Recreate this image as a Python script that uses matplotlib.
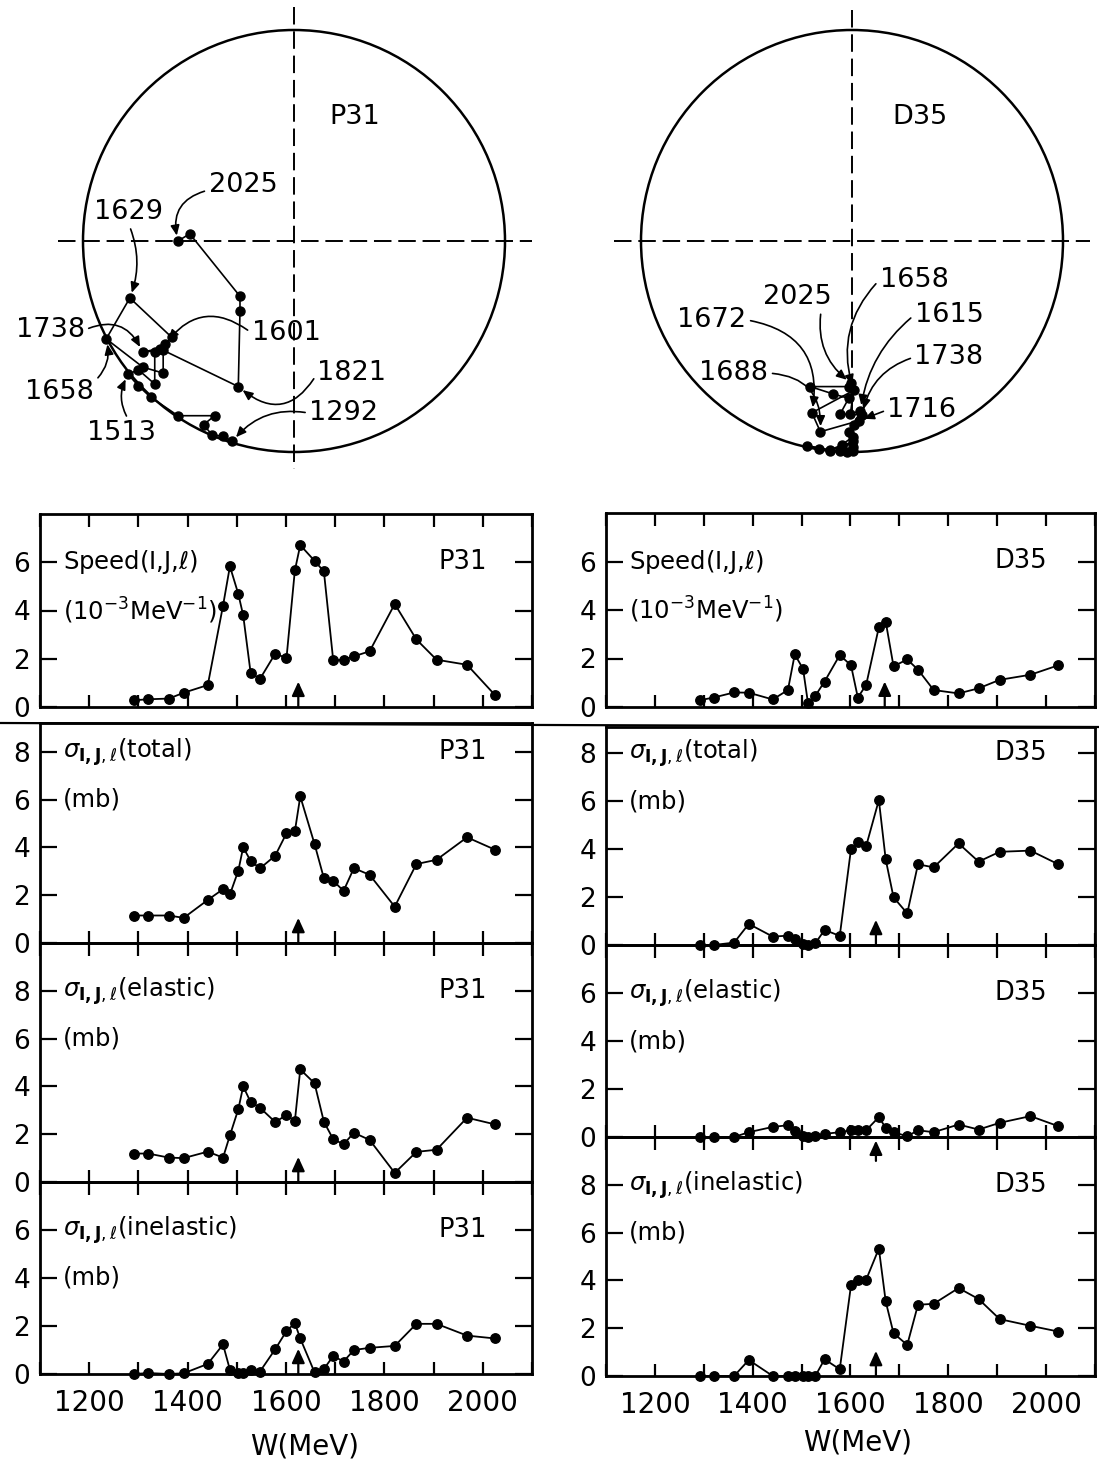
import matplotlib.pyplot as plt
import numpy as np
from matplotlib.lines import Line2D
from matplotlib.patches import Circle

FIG_W, FIG_H = 1099, 1466
DPI = 100

plt.rcParams["font.family"] = ["DejaVu Sans"]
plt.rcParams["mathtext.fontset"] = "dejavusans"

# ---------------------------------------------------------------- data
# energies (MeV) of the single-energy solutions
W_P31 = [1292, 1320, 1362, 1392, 1441, 1472, 1486, 1503, 1513, 1528, 1547, 1578, 1601,
         1618, 1629, 1658, 1677, 1696, 1717, 1738, 1770, 1821, 1865, 1906, 1968, 2025]
W_D35 = [1292, 1320, 1362, 1392, 1441, 1472, 1486, 1503, 1513, 1528, 1547, 1578, 1601,
         1615, 1632, 1658, 1672, 1688, 1716, 1738, 1770, 1821, 1862, 1905, 1968, 2025]

# Argand diagram points (Re T, Im T)
re_P31 = [-0.146, -0.168, -0.195, -0.214, -0.188, -0.275, -0.340, -0.369, -0.393, -0.369,
          -0.330, -0.330, -0.306, -0.290, -0.389, -0.445, -0.358, -0.310, -0.310, -0.359,
          -0.318, -0.132, -0.128, -0.128, -0.247, -0.275]
im_P31 = [0.025, 0.037, 0.041, 0.065, 0.086, 0.086, 0.130, 0.157, 0.184, 0.195,
          0.161, 0.237, 0.255, 0.272, 0.365, 0.268, 0.201, 0.187, 0.241, 0.237,
          0.245, 0.155, 0.334, 0.369, 0.517, 0.500]
re_D35 = [0.002, 0.002, -0.012, -0.028, 0.002, -0.051, -0.078, -0.107, -0.051, -0.024,
          0.002, -0.008, 0.004, 0.020, -0.004, 0.004, -0.095, -0.075, 0.016, 0.024,
          -0.028, -0.008, -0.046, -0.099, -0.008, -0.002]
im_D35 = [0.003, 0.013, 0.001, 0.002, 0.025, 0.003, 0.007, 0.015, 0.005, 0.017,
          0.036, 0.048, 0.064, 0.098, 0.090, 0.146, 0.093, 0.048, 0.074, 0.088,
          0.090, 0.127, 0.138, 0.155, 0.155, 0.163]

# energies labelled on the Argand diagrams
argand_labels_P31 = [2025, 1629, 1738, 1601, 1658, 1821, 1513, 1292]
argand_labels_D35 = [2025, 1658, 1615, 1672, 1738, 1688, 1716]

# speed (10^-3 MeV^-1) and partial cross sections (mb)
speed_P31 = [0.28, 0.32, 0.35, 0.59, 0.91, 4.2, 5.83, 4.69, 3.8, 1.43, 1.16, 2.21, 2.03,
             5.66, 6.71, 6.06, 5.62, 1.93, 1.96, 2.1, 2.31, 4.27, 2.8, 1.96, 1.75, 0.49]
total_P31 = [1.15, 1.15, 1.15, 1.05, 1.8, 2.25, 2.03, 3.02, 4.0, 3.44, 3.12, 3.65, 4.59,
             4.67, 6.13, 4.14, 2.71, 2.6, 2.18, 3.13, 2.85, 1.52, 3.3, 3.48, 4.42, 3.9]
elastic_P31 = [1.19, 1.19, 1.02, 1.0, 1.27, 1.02, 1.95, 3.04, 4.0, 3.35, 3.11, 2.51, 2.8,
               2.55, 4.71, 4.13, 2.52, 1.79, 1.58, 2.06, 1.76, 0.38, 1.26, 1.35, 2.69, 2.41]
inelastic_P31 = [0.0, 0.04, 0.0, 0.03, 0.42, 1.23, 0.18, 0.05, 0.04, 0.18, 0.1, 1.03, 1.79,
                 2.12, 1.48, 0.07, 0.21, 0.75, 0.52, 1.0, 1.09, 1.17, 2.09, 2.09, 1.6, 1.48]

speed_D35 = [0.28, 0.39, 0.6, 0.59, 0.31, 0.7, 2.17, 1.57, 0.17, 0.46, 1.05, 2.14, 1.72,
             0.39, 0.91, 3.29, 3.52, 1.68, 1.96, 1.54, 0.7, 0.56, 0.77, 1.12, 1.33, 1.72]
total_D35 = [0.0, 0.0, 0.1, 0.88, 0.35, 0.39, 0.25, 0.04, 0.0, 0.07, 0.63, 0.38, 4.0,
             4.28, 4.13, 6.05, 3.57, 1.99, 1.32, 3.37, 3.24, 4.24, 3.48, 3.89, 3.94, 3.37]
elastic_D35 = [0.0, 0.0, 0.0, 0.2, 0.42, 0.49, 0.24, 0.05, 0.0, 0.05, 0.13, 0.2, 0.28,
               0.28, 0.28, 0.83, 0.38, 0.2, 0.03, 0.28, 0.2, 0.52, 0.31, 0.59, 0.87, 0.45]
inelastic_D35 = [0.0, 0.0, 0.0, 0.67, 0.0, 0.0, 0.0, 0.0, 0.0, 0.0, 0.7, 0.28, 3.79,
                 4.03, 4.03, 5.33, 3.12, 1.79, 1.3, 2.98, 3.02, 3.68, 3.22, 2.38, 2.1, 1.86]

# resonance-energy arrows (MeV)
arrow_P31 = [1625, 1625, 1625, 1625]
arrow_D35 = [1670, 1652, 1652, 1652]

# ---------------------------------------------------------------- helpers
fig = plt.figure(figsize=(FIG_W / DPI, FIG_H / DPI), dpi=DPI)


def px_axes(x0, y0, x1, y1):
    return fig.add_axes([x0 / FIG_W, 1 - y1 / FIG_H, (x1 - x0) / FIG_W, (y1 - y0) / FIG_H])


SCALE = 422.0  # px per unit of T
ARROW = dict(arrowstyle="-|>,head_length=0.7,head_width=0.32", mutation_scale=12,
             lw=1.6, color="k", shrinkA=0, shrinkB=0)


def draw_argand(box, cx, cy, re, im, W, labels, lab_pos, relpos, rads, wave, wave_pos,
                hline, vline):
    x0, y0, x1, y1 = box
    ax = px_axes(x0, y0, x1, y1)
    ax.set_xlim((x0 - cx) / SCALE, (x1 - cx) / SCALE)
    ax.set_ylim(0.5 - (y1 - cy) / SCALE, 0.5 + (cy - y0) / SCALE)
    ax.axis("off")
    ax.add_patch(Circle((0, 0.5), 0.5, fill=False, lw=1.8, color="k"))
    dash = (0, (9, 3.5))
    ax.plot(hline, [0.5, 0.5], color="k", lw=1.4, ls=dash)
    ax.plot([0, 0], vline, color="k", lw=1.4, ls=dash)
    ax.plot(re, im, color="k", lw=1.2, marker="o", ms=6.5, zorder=3)
    for e, (tx, ty), rp, rad in zip(labels, lab_pos, relpos, rads):
        i = W.index(e)
        ax.annotate(str(e), xy=(re[i], im[i]), xytext=(tx, ty), ha="center", va="center",
                    fontsize=19.5,
                    arrowprops=dict(arrowstyle="-|>,head_length=0.5,head_width=0.22",
                                    mutation_scale=12, lw=1.2, color="k",
                                    connectionstyle=f"arc3,rad={rad}", relpos=rp,
                                    shrinkA=1, shrinkB=4))
    ax.text(wave_pos[0], wave_pos[1], wave, ha="center", va="center", fontsize=19.5)


draw_argand((0, 0, 560, 490), 294, 241, re_P31, im_P31, W_P31, argand_labels_P31,
            [(-0.121, 0.633), (-0.391, 0.569), (-0.578, 0.289), (-0.019, 0.282),
             (-0.555, 0.142), (0.137, 0.187), (-0.408, 0.045), (0.118, 0.092)],
            [(0.0, 0.3), (0.5, 0.0), (1.0, 0.5), (0.0, 0.5), (1.0, 0.9), (0.0, 0.5),
             (0.6, 1.0), (0.0, 0.5)],
            [0.5, -0.2, -0.5, 0.5, 0.3, -0.6, -0.3, 0.3],
            "P31", (0.145, 0.794), [-0.56, 0.565], [1.055, -0.04])

draw_argand((560, 0, 1099, 490), 852, 241, re_D35, im_D35, W_D35, argand_labels_D35,
            [(-0.130, 0.367), (0.147, 0.408), (0.230, 0.325), (-0.332, 0.313),
             (0.230, 0.225), (-0.280, 0.187), (0.166, 0.100)],
            [(0.85, 0.0), (0.0, 0.5), (0.0, 0.5), (1.0, 0.5), (0.0, 0.5), (1.0, 0.5),
             (0.0, 0.5)],
            [0.3, 0.3, 0.2, -0.5, 0.3, -0.5, 0.0],
            "D35", (0.161, 0.794), [-0.565, 0.565], [1.047, 0.005])

# ---------------------------------------------------------------- panels
SPEED_LBL = ["Speed(I,J,$\\ell$)", "(10$^{-3}$MeV$^{-1}$)"]
TOTAL_LBL = ["$\\sigma_{\\mathbf{I,J},\\ell}$(total)", "(mb)"]
ELAS_LBL = ["$\\sigma_{\\mathbf{I,J},\\ell}$(elastic)", "(mb)"]
INEL_LBL = ["$\\sigma_{\\mathbf{I,J},\\ell}$(inelastic)", "(mb)"]


def draw_panel(x0, x1, top, bottom, ymax, W, vals, lbl, ly, wave, wave_x, arrow_w,
               top_ticks, bottom_labels):
    ax = px_axes(x0, top, x1, bottom)
    ax.set_facecolor("none")
    ax.plot(W, vals, color="k", lw=1.3, marker="o", ms=6.8, clip_on=False, zorder=3)
    ax.set_xlim(1100, 2100)
    ax.set_ylim(0, ymax)
    for s in ax.spines.values():
        s.set_linewidth(2.0)
    ax.set_xticks(np.arange(1200, 2001, 200))
    ax.set_xticks(np.arange(1100, 2101, 200), minor=True)
    ax.set_yticks([v for v in range(0, 11, 2) if v < ymax - 0.5])
    ax.tick_params(axis="x", which="both", direction="in", length=9, width=1.6,
                   top=top_ticks, bottom=True, labelbottom=bottom_labels, labelsize=20,
                   pad=11)
    ax.tick_params(axis="y", direction="in", length=12, width=1.6, left=True, right=True,
                   labelsize=19, pad=7)
    ax.text(1147, ly[0], lbl[0], ha="left", va="center", fontsize=17.5)
    ax.text(1147, ly[1], lbl[1], ha="left", va="center", fontsize=17.5)
    ax.text(wave_x, ly[0], wave, ha="right", va="center", fontsize=18.5)
    if arrow_w is not None:
        ax.annotate("", xy=(arrow_w, 1.05), xytext=(arrow_w, 0), arrowprops=ARROW)
    return ax


LX0, LX1 = 40, 532
RX0, RX1 = 606, 1095

draw_panel(LX0, LX1, 514, 707, 8.0, W_P31, speed_P31, SPEED_LBL, (6, 4), "P31", 2008,
           arrow_P31[0], True, False)
draw_panel(LX0, LX1, 723, 943, 9.2, W_P31, total_P31, TOTAL_LBL, (8, 6), "P31", 2008,
           arrow_P31[1], False, False)
draw_panel(LX0, LX1, 943, 1182, 10.0, W_P31, elastic_P31, ELAS_LBL, (8, 6), "P31", 2008,
           arrow_P31[2], True, False)
draw_panel(LX0, LX1, 1182, 1374, 8.0, W_P31, inelastic_P31, INEL_LBL, (6, 4), "P31", 2008,
           arrow_P31[3], True, True)

draw_panel(RX0, RX1, 513, 707, 8.0, W_D35, speed_D35, SPEED_LBL, (6, 4), "D35", 2003,
           arrow_D35[0], True, False)
draw_panel(RX0, RX1, 727, 945, 9.1, W_D35, total_D35, TOTAL_LBL, (8, 6), "D35", 2003,
           arrow_D35[1], False, False)
draw_panel(RX0, RX1, 945, 1137, 8.0, W_D35, elastic_D35, ELAS_LBL, (6, 4), "D35", 2003,
           None, True, False)
ax_inel = draw_panel(RX0, RX1, 1137, 1376, 10.0, W_D35, inelastic_D35, INEL_LBL, (8, 6),
                     "D35", 2003, arrow_D35[3], True, True)
# the elastic-D35 arrow hangs just under that panel's zero line
ax_inel.annotate("", xy=(arrow_D35[2], 9.85), xytext=(arrow_D35[2], 9.0), arrowprops=ARROW)

# long rule across the page above the total-cross-section panels
fig.add_artist(Line2D([0, 1], [1 - 723 / FIG_H, 1 - 727 / FIG_H], transform=fig.transFigure,
                      color="k", lw=1.6))

fig.text(305 / FIG_W, 1 - 1447 / FIG_H, "W(MeV)", ha="center", va="center", fontsize=20)
fig.text(858 / FIG_W, 1 - 1442 / FIG_H, "W(MeV)", ha="center", va="center", fontsize=20)

fig.savefig("out.png", dpi=DPI)
